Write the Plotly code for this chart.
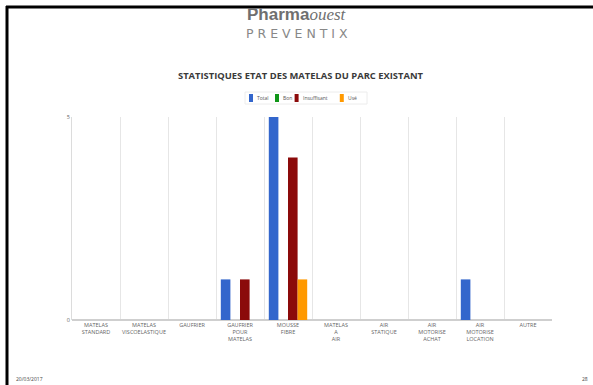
import plotly.graph_objects as go

categories = [
    "MATELAS<br>STANDARD",
    "MATELAS<br>VISCOELASTIQUE",
    "GAUFRIER",
    "GAUFRIER<br>POUR<br>MATELAS",
    "MOUSSE<br>FIBRE",
    "MATELAS<br>A<br>AIR",
    "AIR<br>STATIQUE",
    "AIR<br>MOTORISE<br>ACHAT",
    "AIR<br>MOTORISE<br>LOCATION",
    "AUTRE",
]
total = [0, 0, 0, 1, 5, 0, 0, 0, 1, 0]
bon = [0, 0, 0, 0, 0, 0, 0, 0, 0, 0]
insuffisant = [0, 0, 0, 1, 4, 0, 0, 0, 0, 0]
use = [0, 0, 0, 0, 1, 0, 0, 0, 0, 0]

series = [
    ("Total", total, "#3366cc"),
    ("Bon", bon, "#109618"),
    ("Insuffisant", insuffisant, "#8b0a0a"),
    ("Usé", use, "#ff9900"),
]

W, H = 593, 385
L, R, T, B = 72, 41, 117, 65
PW, PH = W - L - R, H - T - B


def px(x):
    return (x - L) / PW


def py(y):
    return (H - B - y) / PH


fig = go.Figure()
for name, vals, color in series:
    fig.add_trace(go.Bar(x=categories, y=vals, name=name, marker_color=color,
                         marker_line_width=0))

fig.update_layout(
    width=W, height=H,
    margin=dict(l=L, r=R, t=T, b=B),
    paper_bgcolor="white", plot_bgcolor="white",
    font=dict(family="Open Sans", color="#555", size=5),
    barmode="group", bargap=0.2, bargroupgap=0,
    showlegend=False,
)
fig.update_xaxes(tickson="boundaries", showgrid=True, gridcolor="#e6e6e6", gridwidth=1,
                 ticks="", tickfont=dict(size=5.5, color="#666"), showline=False,
                 tickangle=0, ticklabelstandoff=0)
fig.update_yaxes(range=[0, 5], tickvals=[0, 5], ticktext=["0", "5"], showgrid=True,
                 gridcolor="#d9d9d9", zeroline=True, zerolinecolor="#cfcfcf",
                 showline=True, linecolor="#dcdcdc", tickfont=dict(size=5.5, color="#666"))

# small legend drawn by hand (plotly's symbols are far bigger than the original)
fig.add_shape(type="rect", xref="paper", yref="paper", x0=px(245), x1=px(367),
              y0=py(104), y1=py(92), line=dict(color="#ececec", width=1), fillcolor="white")
lx = 249
for name, vals, color in series:
    fig.add_shape(type="rect", xref="paper", yref="paper", x0=px(lx), x1=px(lx + 4),
                  y0=py(102), y1=py(94), line_width=0, fillcolor=color)
    fig.add_annotation(text=name, xref="paper", yref="paper", x=px(lx + 6), y=py(98),
                       showarrow=False, xanchor="left", yanchor="middle",
                       font=dict(size=5, color="#555"))
    lx += 10 + len(name) * 3.2

# slide title and logo
fig.add_annotation(text="<b>STATISTIQUES ETAT DES MATELAS DU PARC EXISTANT</b>",
                   xref="paper", yref="paper", x=px(301), y=py(75), showarrow=False,
                   xanchor="center", yanchor="middle",
                   font=dict(size=9.4, color="#3a3a3a", family="Open Sans"))
fig.add_annotation(text="<b>Pharma</b><span style='font-family:Liberation Serif'><i>ouest</i></span>",
                   xref="paper", yref="paper",
                   x=px(297), y=py(14), showarrow=False, xanchor="center", yanchor="middle",
                   font=dict(size=17, color="#6f6f6f", family="Liberation Sans"))
fig.add_annotation(text="P R E V E N T I X", xref="paper", yref="paper",
                   x=px(297), y=py(33), showarrow=False, xanchor="center", yanchor="middle",
                   font=dict(size=12.5, color="#888", family="DejaVu Sans"))
# footer
fig.add_annotation(text="20/03/2017", xref="paper", yref="paper", x=px(14), y=py(379),
                   showarrow=False, xanchor="left", yanchor="middle",
                   font=dict(size=5, color="#444"))
fig.add_annotation(text="28", xref="paper", yref="paper", x=px(590), y=py(379),
                   showarrow=False, xanchor="right", yanchor="middle",
                   font=dict(size=5, color="#444"))

# slide frame (top and left edges)
fig.add_shape(type="line", xref="paper", yref="paper", x0=px(6), x1=px(W), y0=py(7), y1=py(7),
              line=dict(color="black", width=3))
fig.add_shape(type="line", xref="paper", yref="paper", x0=px(7), x1=px(7), y0=py(6), y1=py(H),
              line=dict(color="black", width=3))

fig.write_html("out.html", config={"displayModeBar": False},
               post_script="document.body.style.margin='0';document.body.style.overflow='hidden';")
